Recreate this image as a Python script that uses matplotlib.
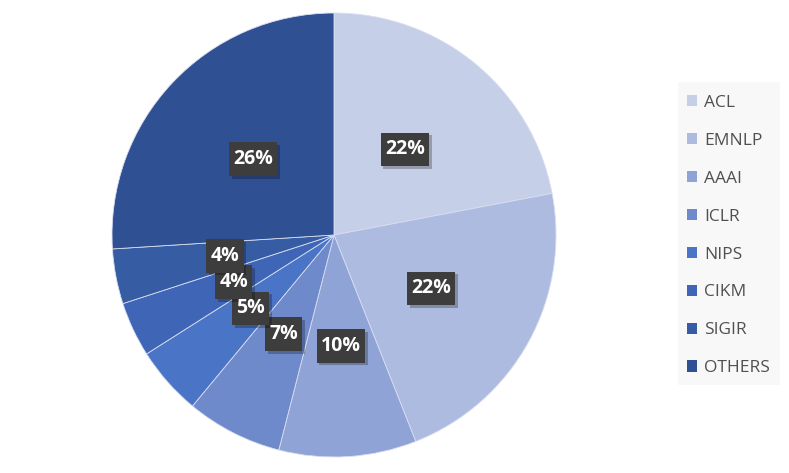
import matplotlib
matplotlib.use("Agg")
import matplotlib.pyplot as plt
import matplotlib.patheffects as pe
from matplotlib.patches import Rectangle

labels = ["ACL", "EMNLP", "AAAI", "ICLR", "NIPS", "CIKM", "SIGIR", "OTHERS"]
values = [22, 22, 10, 7, 5, 4, 4, 26]
colors = ["#C6CFE8", "#AEBBE0", "#8FA3D6", "#6E8ACB", "#4A74C6", "#3F66B6", "#365CA4", "#2F5092"]

plt.rcParams['font.family'] = ['Open Sans', 'DejaVu Sans']

W, H = 789, 473
fig = plt.figure(figsize=(W / 100, H / 100), dpi=100)
cx, cy, r = 334, 235, 222
ax = fig.add_axes([(cx - r) / W, (H - cy - r) / H, 2 * r / W, 2 * r / H])

wedges, texts, autotexts = ax.pie(
    values, colors=colors, startangle=90, counterclock=False,
    autopct=lambda p: f"{p:.0f}%", pctdistance=0.5,
    wedgeprops=dict(linewidth=0.6, edgecolor="#d8def0"),
    textprops=dict(color="white", fontsize=14, fontweight="bold"),
)
for t in autotexts:
    t.set_bbox(dict(boxstyle="square,pad=0.22", facecolor="#3d3d3d", edgecolor="none",
                    mutation_aspect=1.6))
    t.get_bbox_patch().set_path_effects([pe.withSimplePatchShadow(offset=(2, -2), shadow_rgbFace="#000000", alpha=0.25), pe.Normal()])
    t.set_zorder(5)
    x, y = t.get_position()
    ax.text(x, y, t.get_text(), ha="center", va="center", color="white",
            fontsize=14, fontweight="bold", zorder=10)
    t.set_color("none")
ax.set_xlim(-1, 1)
ax.set_ylim(-1, 1)
ax.set_aspect("equal")

# legend background
bg = Rectangle((678 / W, (H - 385) / H), (780 - 678) / W, (385 - 82) / H,
               transform=fig.transFigure, facecolor="#f8f8f8", edgecolor="none", zorder=0)
fig.patches.append(bg)

leg = fig.legend(wedges, labels, loc="upper left", bbox_to_anchor=(687 / W, (H - 95) / H),
                 frameon=False, fontsize=12.5, handlelength=0.6, handleheight=0.6,
                 handletextpad=0.4, labelspacing=1.26, labelcolor="#505050",
                 borderaxespad=0, borderpad=0)
for h in leg.legend_handles:
    h.set_edgecolor("none")

fig.savefig("out.png", dpi=100)
